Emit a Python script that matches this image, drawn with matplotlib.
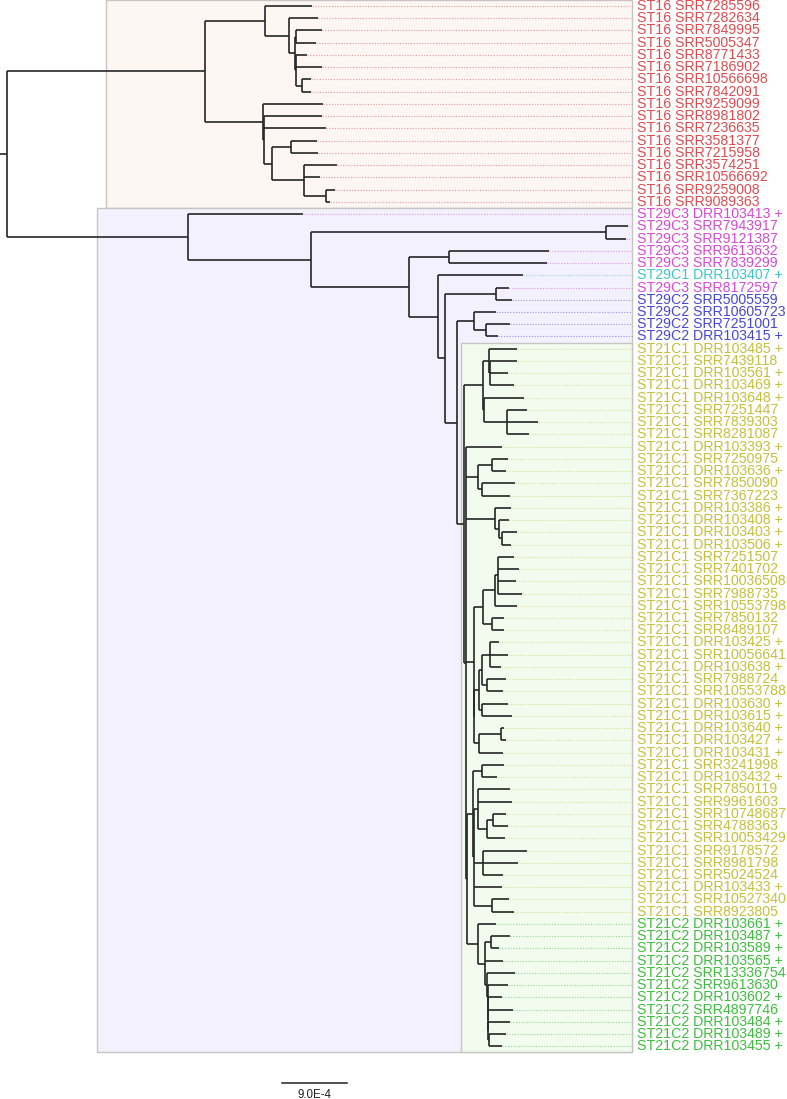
import matplotlib
matplotlib.use("Agg")
import matplotlib.pyplot as plt
from matplotlib.collections import LineCollection
from matplotlib.patches import Rectangle

# branch lengths in units of 1e-5 substitutions/site
st16_newick = ("((SRR7285596:65.1,(SRR7282634:40.2,((SRR7849995:36.0,SRR5005347:27.7):1.4,"
               "(SRR8771433:15.2,SRR7186902:36.0,(SRR10566698:12.5,SRR7842091:12.5):8.3):1.4):8.3):33.2):83.1,"
               "(SRR9259099:83.1,(SRR8981802:80.3,SRR7236635:85.8,((SRR3581377:36.0,SRR7215958:37.4):26.3,"
               "(SRR3574251:45.7,SRR10566692:22.2,(SRR9259008:12.5,SRR9089363:5.5):30.5):44.3):11.1):1.4):80.3)ST16:274.2")

st29_newick = ("(DRR103413:159.2,((SRR7943917:30.5,SRR9121387:27.7):408.5,((SRR9613632:138.5,SRR7839299:135.7):55.4,"
               "(DRR103407:117.7,((SRR8172597:18.4,SRR5005559:22.2):70.2,((SRR10605723:30.5,"
               "(SRR7251001:33.6,DRR103415:17.0):16.6):23.5,#ST21#):16.2):9.7):40.2):135.7):170.3)ST29:250.6")

st21_top = ("((DRR103485:38.8,(SRR7439118:37.0,DRR103561:25.3,DRR103469:33.6):1.0):8.3,"
            "(DRR103648:55.0,(SRR7251447:26.9,SRR7839303:42.1,SRR8281087:30.0):31.8):1.4):26.3")
st21_mid = ("DRR103393:49.8,((SRR7250975:21.3,DRR103636:18.6):19.4,(SRR7850090:45.3,SRR7367223:38.4):5.5):17.4,"
            "(DRR103386:22.2,(DRR103408:13.4,(DRR103403:20.8,DRR103506:12.9):3.3):6.0):40.6,"
            "((((SRR7251507:23.3,SRR7401702:30.2,SRR10036508:25.6,SRR7988735:34.3):3.5,SRR10553798:30.9):16.2,"
            "(SRR7850132:16.2,SRR8489107:16.2):12.5):12.9,"
            "((((DRR103425:12.9,SRR10056641:25.3,DRR103638:15.2):11.1,(SRR7988724:26.7,SRR10553788:23.0):6.5):3.7,"
            "(DRR103630:36.0,DRR103615:40.7):4.2):6.6,((DRR103640:4.2,DRR103427:6.9):30.5,DRR103431:32.8):6.2):0.7):11.5")
st21_low = ("((SRR3241998:30.9,DRR103432:20.8):11.6,((SRR7850119:44.7,SRR9961603:47.9,"
            "((SRR10748687:18.4,SRR4788363:20.8):8.3,SRR10053429:25.3):12.5):4.7,"
            "(SRR9178572:60.1,SRR8981798:48.5,SRR5024524:26.9):12.5,DRR103433:38.8,"
            "(SRR10527340:24.4,SRR8923805:30.9):24.1):1.4):9.1")
st21c2_newick = ("(DRR103661:24.9,((DRR103487:26.3,DRR103589:11.1):8.3,DRR103565:24.5,"
                 "(SRR13336754:38.4,(SRR9613630:27.8,(DRR103602:19.1,(SRR4897746:34.8,(DRR103484:29.8,"
                 "(DRR103489:23.8,DRR103455:17.9):0.4):0.4):0.4):0.4):0.4):3.2):10.1):15.2")
root_len = 9.7

st16 = ["SRR7285596", "SRR7282634", "SRR7849995", "SRR5005347", "SRR8771433", "SRR7186902",
        "SRR10566698", "SRR7842091", "SRR9259099", "SRR8981802", "SRR7236635", "SRR3581377",
        "SRR7215958", "SRR3574251", "SRR10566692", "SRR9259008", "SRR9089363"]
st29c3 = ["DRR103413", "SRR7943917", "SRR9121387", "SRR9613632", "SRR7839299", "SRR8172597"]
st29c1 = ["DRR103407"]
st29c2 = ["SRR5005559", "SRR10605723", "SRR7251001", "DRR103415"]
st21c1 = ["DRR103485", "SRR7439118", "DRR103561", "DRR103469", "DRR103648", "SRR7251447",
          "SRR7839303", "SRR8281087", "DRR103393", "SRR7250975", "DRR103636", "SRR7850090",
          "SRR7367223", "DRR103386", "DRR103408", "DRR103403", "DRR103506", "SRR7251507",
          "SRR7401702", "SRR10036508", "SRR7988735", "SRR10553798", "SRR7850132", "SRR8489107",
          "DRR103425", "SRR10056641", "DRR103638", "SRR7988724", "SRR10553788", "DRR103630",
          "DRR103615", "DRR103640", "DRR103427", "DRR103431", "SRR3241998", "DRR103432",
          "SRR7850119", "SRR9961603", "SRR10748687", "SRR4788363", "SRR10053429", "SRR9178572",
          "SRR8981798", "SRR5024524", "DRR103433", "SRR10527340", "SRR8923805"]
st21c2 = ["DRR103661", "DRR103487", "DRR103589", "DRR103565", "SRR13336754", "SRR9613630",
          "DRR103602", "SRR4897746", "DRR103484", "DRR103489", "DRR103455"]
plus = ["DRR103413", "DRR103407", "DRR103415", "DRR103485", "DRR103561", "DRR103469",
        "DRR103648", "DRR103393", "DRR103636", "DRR103386", "DRR103408", "DRR103403",
        "DRR103506", "DRR103425", "DRR103638", "DRR103630", "DRR103615", "DRR103640",
        "DRR103427", "DRR103431", "DRR103432", "DRR103433", "DRR103661", "DRR103487",
        "DRR103589", "DRR103565", "DRR103602", "DRR103484", "DRR103489", "DRR103455"]

groups = [("ST16", st16, "#df4a4f"), ("ST29C3", st29c3, "#d948d4"), ("ST29C1", st29c1, "#3cc6cc"),
          ("ST29C2", st29c2, "#4646d8"), ("ST21C1", st21c1, "#c6bf3c"), ("ST21C2", st21c2, "#3dbd3d")]
boxes = [("ST16", "#fdf6f2"), ("ST29", "#f3f1fd"), ("ST21", "#f1fcef")]

st21_newick = "(" + st21_top + ",(" + st21_mid + ",(" + st21_low + "," + st21c2_newick + "):1.4):1.9)ST21:10.5"
newick = "(" + st16_newick + "," + st29_newick.replace("#ST21#", st21_newick) + "):%s;" % root_len


def parse(s):
    s = s.replace(" ", "")
    pos = 0

    def node():
        nonlocal pos
        kids = []
        if s[pos] == "(":
            pos += 1
            kids.append(node())
            while s[pos] == ",":
                pos += 1
                kids.append(node())
            pos += 1
        start = pos
        while s[pos] not in ":,);":
            pos += 1
        name = s[start:pos]
        ln = 0.0
        if s[pos] == ":":
            pos += 1
            start = pos
            while s[pos] not in ",);":
                pos += 1
            ln = float(s[start:pos])
        return {"name": name, "len": ln, "kids": kids}

    return node()


tree = parse(newick)
leaves = []
nodes = []


def layout(n, x0):
    n["px"] = x0
    n["x"] = x0 + n["len"]
    nodes.append(n)
    if not n["kids"]:
        n["y"] = len(leaves)
        leaves.append(n)
        n["lo"] = n["hi"] = n["y"]
    else:
        for c in n["kids"]:
            layout(c, n["x"])
        n["y"] = (n["kids"][0]["y"] + n["kids"][-1]["y"]) / 2
        n["lo"] = n["kids"][0]["lo"]
        n["hi"] = n["kids"][-1]["hi"]


layout(tree, 0.0)

fig = plt.figure(figsize=(7.87, 10.99), dpi=100)
ax = fig.add_axes([0, 0, 1, 1])
ax.axis("off")
ax.set_xlim(0, 1089.7)
ax.set_ylim(89.3, -0.49)

right = 875
label_x = 882

for name, col in boxes:
    n = [m for m in nodes if m["name"] == name][0]
    x0 = (n["px"] + n["x"]) / 2
    ax.add_patch(Rectangle((x0, n["lo"] - 0.5), right - x0, n["hi"] - n["lo"] + 1,
                           facecolor=col, edgecolor="#c8c4c4", lw=1, zorder=0))

color_of = {}
group_of = {}
for g, accs, col in groups:
    for a in accs:
        color_of[a] = col
        group_of[a] = g

segs = []
for n in nodes:
    segs.append([(n["px"], n["y"]), (n["x"], n["y"])])
    if n["kids"]:
        segs.append([(n["x"], n["kids"][0]["y"]), (n["x"], n["kids"][-1]["y"])])
ax.add_collection(LineCollection(segs, colors="#262626", linewidths=1.2, zorder=3))

for lf in leaves:
    a = lf["name"]
    col = color_of[a]
    ax.plot([lf["x"], right], [lf["y"], lf["y"]], color=col, alpha=0.55, lw=0.8,
            linestyle=(0, (1, 1.5)), zorder=2)
    txt = group_of[a] + " " + a + (" +" if a in plus else "")
    ax.text(label_x, lf["y"], txt, color=col, fontsize=10.2, family="Liberation Sans",
            va="center", ha="left")

# scale bar 9.0E-4
sb_x = 390.5
sb_len = 90
ax.plot([sb_x, sb_x + sb_len], [87.97, 87.97], color="#222222", lw=1.1)
ax.text(sb_x + sb_len / 2, 88.95, "9.0E-4", fontsize=8.3, family="Liberation Sans",
        ha="center", va="center", color="#222222")

fig.savefig("out.png", dpi=100)
